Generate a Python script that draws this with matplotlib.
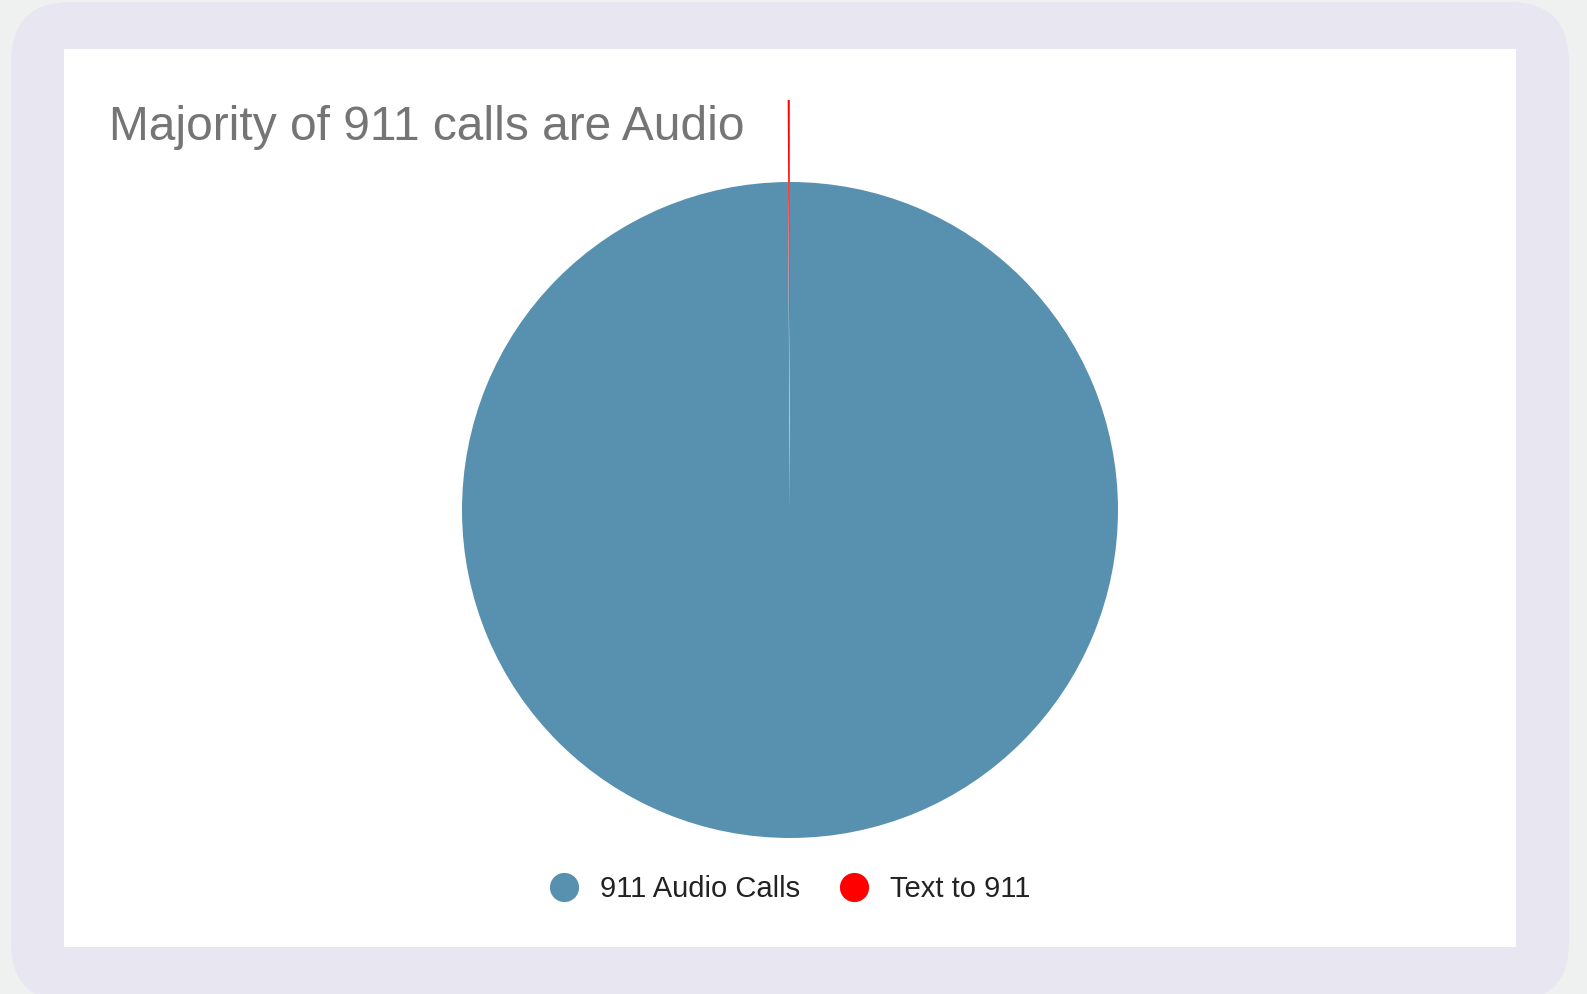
import matplotlib.pyplot as plt
from matplotlib.patches import FancyBboxPatch, Rectangle
from matplotlib.lines import Line2D

labels = ['911 Audio Calls', 'Text to 911']
values = [99.9, 0.1]
colors = ['#5891b0', '#ff0000']
title = 'Majority of 911 calls are Audio'

W, H = 1587, 994
fig = plt.figure(figsize=(W / 100, H / 100), dpi=100, facecolor='#eff1f0')
plt.rcParams['font.family'] = ['Liberation Sans', 'DejaVu Sans']

# background frame in pixel coords
bg = fig.add_axes([0, 0, 1, 1])
bg.set_xlim(0, W)
bg.set_ylim(H, 0)
bg.axis('off')
bg.add_patch(FancyBboxPatch((11, 2), 1558, 1000, boxstyle='round,pad=0,rounding_size=60',
                            facecolor='#e8e6f1', edgecolor='none'))
bg.add_patch(Rectangle((64, 49), 1452, 898, facecolor='white', edgecolor='none'))
bg.text(109, 128, title, fontsize=34.5, color='#757575', va='center', ha='left')

# pie
R = 328
lim = 1.3
side = 2 * lim * R
cx, cy = 790, H - 510
ax = fig.add_axes([(cx - side / 2) / W, (cy - side / 2) / H, side / W, side / H])
ax.pie(values, colors=colors, startangle=90, counterclock=False,
       explode=[0, 0.25], wedgeprops=dict(linewidth=0))
ax.set_xlim(-lim, lim)
ax.set_ylim(-lim, lim)
ax.set_aspect('equal')
ax.axis('off')

handles = [Line2D([], [], marker='o', linestyle='none', markersize=21,
                  markerfacecolor=c, markeredgecolor='none') for c in colors]
fig.legend(handles, labels, loc='center', bbox_to_anchor=(cx / W, 1 - 889 / H),
           ncol=2, frameon=False, fontsize=21, labelcolor='#222222',
           handlelength=1.0, handletextpad=0.72, columnspacing=1.35)

fig.savefig('out.png', dpi=100, facecolor=fig.get_facecolor())
